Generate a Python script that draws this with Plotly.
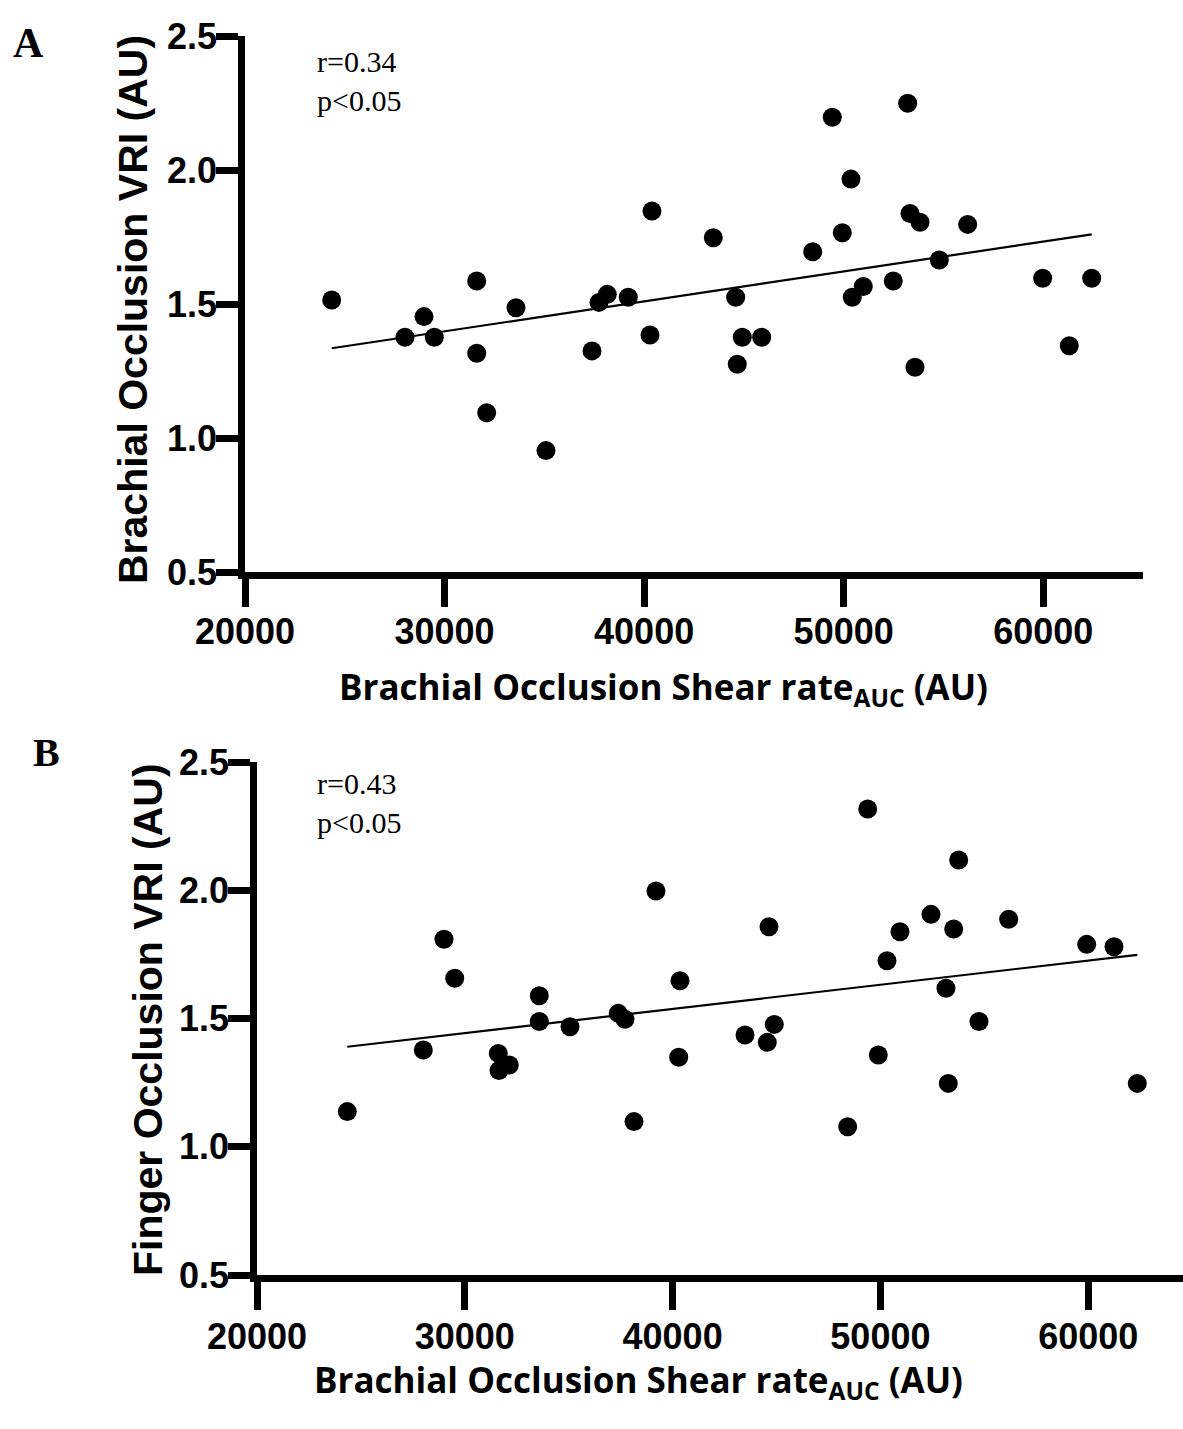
import plotly.graph_objects as go

# ---------------- Panel A data ----------------
a_shear = [24345, 28018, 28970, 29486, 31611, 31611, 32112, 33580, 35083, 37388,
           37739, 38155, 39207, 40294, 40394, 43467, 44589, 44669, 44920, 45892,
           48448, 49430, 49931, 50366, 50432, 50983, 52486, 53207, 53324, 53574,
           53825, 54792, 56214, 59973, 61306, 62429]
a_vri = [1.515, 1.376, 1.453, 1.376, 1.586, 1.316, 1.094, 1.486, 0.953, 1.325,
         1.506, 1.536, 1.525, 1.384, 1.847, 1.747, 1.525, 1.275, 1.376, 1.376,
         1.695, 2.197, 1.766, 1.966, 1.525, 1.565, 1.586, 2.249, 1.838, 1.264,
         1.805, 1.664, 1.797, 1.596, 1.344, 1.596]
a_fit_x = [24345, 62429]
a_fit_y = [1.335, 1.760]
a_stats = ["r=0.34", "p<0.05"]

# ---------------- Panel B data ----------------
b_shear = [24346, 28003, 28999, 29514, 31612, 31646, 32142, 33585, 33585, 35063,
           37387, 37709, 38143, 39201, 40356, 40294, 43484, 44639, 44557, 44894,
           48426, 49389, 49899, 50318, 50943, 52435, 53157, 53268, 53527, 53768,
           54745, 56174, 59928, 61242, 62363]
b_vri = [1.137, 1.377, 1.809, 1.657, 1.364, 1.297, 1.319, 1.589, 1.488, 1.468,
         1.520, 1.497, 1.098, 1.997, 1.647, 1.349, 1.436, 1.858, 1.407, 1.477,
         1.078, 2.317, 1.358, 1.725, 1.838, 1.906, 1.618, 1.247, 1.849, 2.118,
         1.488, 1.887, 1.789, 1.780, 1.247]
b_fit_x = [24346, 62363]
b_fit_y = [1.390, 1.748]
b_stats = ["r=0.43", "p<0.05"]

x_ticks = [20000, 30000, 40000, 50000, 60000]
y_ticks = [0.5, 1.0, 1.5, 2.0, 2.5]
y_ticktext = ["0.5", "1.0", "1.5", "2.0", "2.5"]

W, H = 1183, 1429

def px(x):
    return x / W

def py(y):
    return 1 - y / H

fig = go.Figure()

marker = dict(color="black", size=19, line=dict(width=0))
fig.add_trace(go.Scatter(x=a_shear, y=a_vri, mode="markers", marker=marker,
                         xaxis="x", yaxis="y", showlegend=False))
fig.add_trace(go.Scatter(x=a_fit_x, y=a_fit_y, mode="lines",
                         line=dict(color="black", width=2.2),
                         xaxis="x", yaxis="y", showlegend=False))
fig.add_trace(go.Scatter(x=b_shear, y=b_vri, mode="markers", marker=marker,
                         xaxis="x2", yaxis="y2", showlegend=False))
fig.add_trace(go.Scatter(x=b_fit_x, y=b_fit_y, mode="lines",
                         line=dict(color="black", width=2.2),
                         xaxis="x2", yaxis="y2", showlegend=False))

tick_font = dict(family="Liberation Sans, Arial", size=36, color="black", weight="bold")

def xax(domain, rng, anchor, standoff):
    return dict(domain=domain, range=rng, anchor=anchor, tickvals=x_ticks,
                ticks="outside", ticklen=28, tickwidth=6.5, tickcolor="black",
                showline=True, linewidth=6.5, linecolor="black",
                showgrid=False, zeroline=False, tickfont=tick_font,
                ticklabelstandoff=standoff,
                tickformat="d", fixedrange=True, automargin=False)

def yax(domain, anchor):
    return dict(domain=domain, range=[0.5, 2.5], anchor=anchor,
                tickvals=y_ticks, ticktext=y_ticktext,
                ticks="outside", ticklen=22, tickwidth=6.5, tickcolor="black",
                showline=True, linewidth=6.5, linecolor="black",
                showgrid=False, zeroline=False, tickfont=tick_font,
                ticklabelstandoff=-8,
                fixedrange=True, automargin=False)

fig.update_layout(
    width=W, height=H,
    margin=dict(l=0, r=0, t=0, b=0, autoexpand=False),
    paper_bgcolor="white", plot_bgcolor="white",
    xaxis=xax([px(245), px(1143)], [20000, 65000], "y", -6),
    yaxis=yax([py(572), py(36)], "x"),
    xaxis2=xax([px(257), 1.0], [20000, 64563], "y2", -4),
    yaxis2=yax([py(1275), py(762)], "x2"),
)

ann = []
serif = "Liberation Serif, Times New Roman, serif"
title_font = dict(family="Liberation Sans, Arial", size=41, color="black", weight="bold")
xt_font = dict(family="Open Sans, Noto Sans", size=35, color="black", weight="bold")

def note(text, x, y, font, xanchor="center", angle=0):
    ann.append(dict(text=text, x=px(x), y=py(y), xref="paper", yref="paper",
                    xanchor=xanchor, yanchor="middle", textangle=angle,
                    showarrow=False, font=font))

# Panel letters
note("A", 28, 43, dict(family=serif, size=42, color="black", weight="bold"))
note("B", 46, 752, dict(family=serif, size=40, color="black", weight="bold"))

# statistics text
stat_font = dict(family=serif, size=30, color="black")
for i, s in enumerate(a_stats):
    note(s, 315, 62 + 38 * i, stat_font, xanchor="left")
for i, s in enumerate(b_stats):
    note(s, 315, 783 + 39 * i, stat_font, xanchor="left")

# y titles
note("Brachial Occlusion VRI (AU)", 133, 310, title_font, angle=-90)
note("Finger Occlusion VRI (AU)", 148, 1020, title_font, angle=-90)

# x titles
note("Brachial Occlusion Shear rate<sub>AUC</sub> (AU)", 663, 688, xt_font)
note("Brachial Occlusion Shear rate<sub>AUC</sub> (AU)", 639, 1381, xt_font)

fig.update_layout(annotations=ann)

fig.write_html("out.html", config={"displayModeBar": False},
               post_script="document.body.style.margin='0';")
